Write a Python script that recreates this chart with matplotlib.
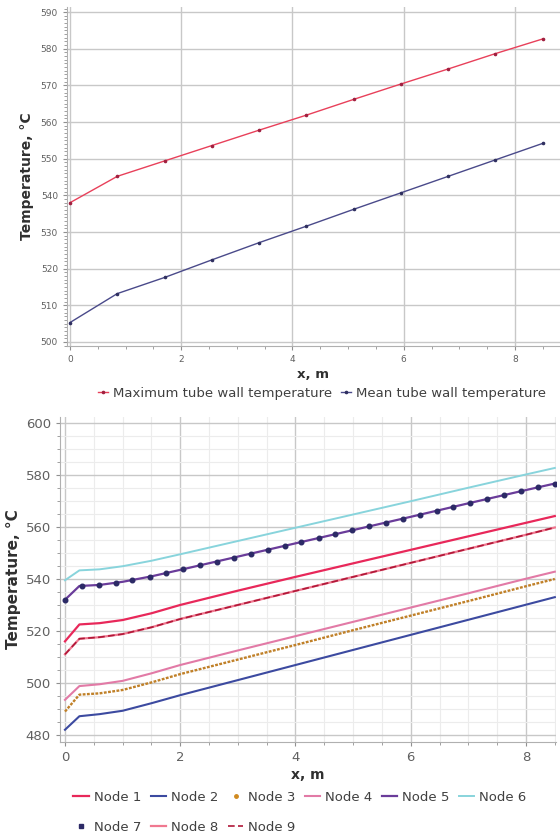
import numpy as np
import matplotlib
matplotlib.use("Agg")
import matplotlib.pyplot as plt
from matplotlib.lines import Line2D
from matplotlib.ticker import MultipleLocator

plt.rcParams["font.family"] = ["DejaVu Sans"]

# ---- top panel: wall temperatures along the tube
x_wall = [0.0, 0.85, 1.7, 2.55, 3.4, 4.25, 5.1, 5.95, 6.8, 7.65, 8.5]
t_max = [538.0, 545.2, 549.4, 553.6, 557.8, 561.9, 566.2, 570.4, 574.5, 578.7, 582.7]
t_mean = [505.3, 513.2, 517.6, 522.4, 527.1, 531.6, 536.2, 540.7, 545.2, 549.7, 554.2]

# ---- bottom panel: node temperatures
x_node = [0.0, 0.25, 0.6, 1.0, 1.5, 2.0, 3.0, 4.0, 5.0, 6.0, 7.0, 8.0, 8.5]
node1 = [516.0, 522.5, 523.0, 524.2, 526.8, 530.0, 535.5, 540.8, 546.0, 551.2, 556.4, 561.6, 564.2]
node2 = [482.0, 487.2, 488.0, 489.3, 492.2, 495.3, 501.1, 506.9, 512.7, 518.5, 524.3, 530.1, 533.0]
node3 = [489.0, 495.5, 496.0, 497.3, 500.2, 503.4, 509.0, 514.6, 520.3, 525.9, 531.5, 537.2, 540.0]
node4 = [493.5, 498.8, 499.5, 500.8, 503.7, 506.9, 512.5, 518.0, 523.5, 529.0, 534.5, 540.1, 542.8]
node5 = [532.0, 537.3, 537.7, 538.9, 541.0, 543.5, 548.6, 553.7, 558.8, 563.9, 569.1, 574.2, 576.7]
node6 = [539.5, 543.3, 543.7, 544.9, 547.0, 549.5, 554.6, 559.7, 564.8, 569.9, 575.1, 580.2, 582.7]
node8 = [511.0, 517.0, 517.6, 518.8, 521.4, 524.6, 530.0, 535.4, 540.8, 546.2, 551.6, 557.0, 559.8]
node9 = [511.0, 517.0, 517.6, 518.8, 521.4, 524.6, 530.0, 535.4, 540.8, 546.2, 551.6, 557.0, 559.8]

x_node7 = [0.0, 0.29, 0.59, 0.88, 1.17, 1.47, 1.76, 2.05, 2.34, 2.64, 2.93, 3.22, 3.52, 3.81, 4.1,
           4.4, 4.69, 4.98, 5.28, 5.57, 5.86, 6.16, 6.45, 6.74, 7.03, 7.33, 7.62, 7.91, 8.21, 8.5]
node7 = [532.0, 537.4, 537.7, 538.5, 539.6, 540.9, 542.3, 543.7, 545.2, 546.7, 548.2, 549.7, 551.2,
         552.7, 554.2, 555.7, 557.2, 558.7, 560.2, 561.7, 563.2, 564.7, 566.2, 567.7, 569.2, 570.7,
         572.2, 573.7, 575.2, 576.7]

GRID = "#c8c8c8"
TICK = "#606060"

fig = plt.figure(figsize=(5.6, 8.38), dpi=100)


def style_axes(ax, tick_size):
    for side in ("top", "right"):
        ax.spines[side].set_visible(False)
    for side in ("left", "bottom"):
        ax.spines[side].set_color("#b0b0b0")
    ax.tick_params(which="both", colors="#909090", labelcolor=TICK, labelsize=tick_size)
    ax.tick_params(which="major", length=3)
    ax.tick_params(which="minor", length=2)
    ax.grid(True, which="major", color=GRID, lw=1.0)
    ax.set_axisbelow(True)


# ---- top chart
ax1 = fig.add_axes([0.1196, 0.5871, 0.8804, 0.4045])
style_axes(ax1, 6.5)
ax1.plot(x_wall, t_max, color="#e8405a", lw=1.0, marker="o", ms=1.6,
         mfc="#a02040", mec="#a02040", label="Maximum tube wall temperature")
ax1.plot(x_wall, t_mean, color="#4a4a8a", lw=1.0, marker="o", ms=1.6,
         mfc="#303060", mec="#303060", label="Mean tube wall temperature")
ax1.set_xlim(-0.054, 8.81)
ax1.set_ylim(498.9, 591.4)
ax1.xaxis.set_major_locator(MultipleLocator(2))
ax1.xaxis.set_minor_locator(MultipleLocator(0.5))
ax1.yaxis.set_major_locator(MultipleLocator(10))
ax1.yaxis.set_minor_locator(MultipleLocator(1))
ax1.set_xlabel("x, m", fontsize=9.5, fontweight="bold", color="#303030", labelpad=3)
ax1.set_ylabel("Temperature, °C", fontsize=10, fontweight="bold", color="#303030", labelpad=5)
ax1.legend(loc="center", bbox_to_anchor=(0.575, 0.531), bbox_transform=fig.transFigure,
           ncol=2, frameon=False, fontsize=9.5, handlelength=0.8, handletextpad=0.4,
           columnspacing=0.6, labelcolor="#404040")

# ---- bottom chart
ax2 = fig.add_axes([0.1071, 0.1146, 0.8857, 0.3878])
style_axes(ax2, 9.5)
ax2.grid(True, which="minor", color="#ececec", lw=0.8)
l1, = ax2.plot(x_node, node1, color="#e8285a", lw=1.6, label="Node 1")
l2, = ax2.plot(x_node, node2, color="#3c4aa0", lw=1.5, label="Node 2")
l3, = ax2.plot(x_node, node3, color="#c08028", lw=1.7, ls=(0, (1.2, 0.6)), label="Node 3")
l4, = ax2.plot(x_node, node4, color="#e27aa6", lw=1.5, label="Node 4")
l5, = ax2.plot(x_node, node5, color="#6a3c9a", lw=1.6, label="Node 5")
l6, = ax2.plot(x_node, node6, color="#88d4dc", lw=1.4, label="Node 6")
l7, = ax2.plot(x_node7, node7, ls="none", marker="o", ms=3.3, color="#2c2a66", label="Node 7")
l8, = ax2.plot(x_node, node8, color="#f07890", lw=1.6, label="Node 8")
l9, = ax2.plot(x_node, node9, color="#b01838", lw=1.2, ls=(0, (4, 2)), label="Node 9")
ax2.set_xlim(-0.087, 8.52)
ax2.set_ylim(477.3, 602.3)
ax2.xaxis.set_major_locator(MultipleLocator(2))
ax2.xaxis.set_minor_locator(MultipleLocator(0.5))
ax2.yaxis.set_major_locator(MultipleLocator(20))
ax2.yaxis.set_minor_locator(MultipleLocator(5))
ax2.set_xlabel("x, m", fontsize=10, fontweight="bold", color="#303030", labelpad=3)
ax2.set_ylabel("Temperature, °C", fontsize=11, fontweight="bold", color="#303030", labelpad=3)

h3 = Line2D([], [], ls="none", marker="o", ms=2.5, color="#d08a20")
h7 = Line2D([], [], ls="none", marker="s", ms=3.5, color="#2c2a66")
handles = [l1, h7, l2, l8, h3, l9, l4, l5, l6]
labels = ["Node 1", "Node 7", "Node 2", "Node 8", "Node 3", "Node 9", "Node 4", "Node 5", "Node 6"]
fig.legend(handles, labels, loc="upper left", bbox_to_anchor=(0.11, 0.0705),
           ncol=6, frameon=False, fontsize=9.5, handlelength=1.2, handletextpad=0.35,
           columnspacing=0.7, labelspacing=1.3, labelcolor="#404040")

fig.savefig("out.png", dpi=100, facecolor="white")
